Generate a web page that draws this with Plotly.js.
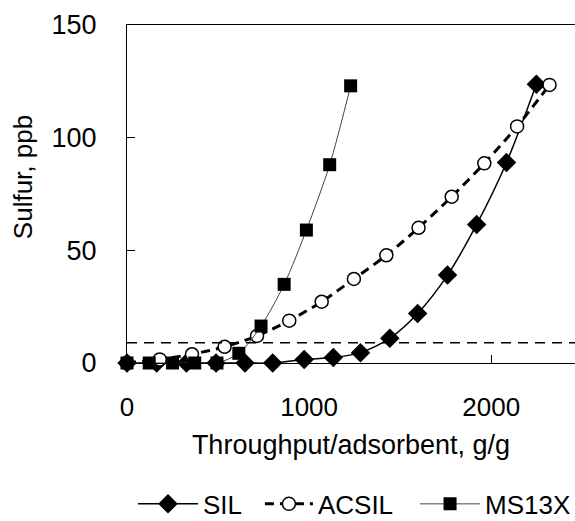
<!DOCTYPE html>
<html>
<head>
<meta charset="utf-8">
<script src="https://cdn.plot.ly/plotly-3.0.1.min.js"></script>
<style>html,body{margin:0;padding:0;background:#fff;}#chart{width:575px;height:521px;}</style>
</head>
<body>
<div id="chart"></div>
<script>
// SIL series
const silX = [0, 163, 326, 489, 648, 800, 973, 1133, 1282, 1443, 1596, 1760, 1920, 2084, 2248];
const silY = [0, 0, 0, 0, 0, 0, 1.6, 2.4, 4.6, 11, 22, 39, 61.5, 89, 123.7];
// ACSIL series
const acsilX = [0, 180, 357, 536, 714, 891, 1069, 1246, 1424, 1601, 1783, 1962, 2142, 2320];
const acsilY = [0, 1.6, 3.9, 7.2, 12, 18.8, 27.2, 37.3, 47.8, 60, 73.8, 88.6, 105, 123.4];
// MS13X series
const msX = [0, 122, 250, 372, 494, 614, 736, 863, 985, 1113, 1228];
const msY = [0, 0, 0, 0, 0, 4.3, 16.4, 34.9, 59, 88, 123];
// horizontal dashed reference level
const limitY = 9;
const xTicks = [0, 1000, 2000];
const yTicks = [0, 50, 100, 150];

const FONT = 'Liberation Sans, Arial, sans-serif';

const traces = [
  {x: silX, y: silY, name: 'SIL', mode: 'lines+markers', cliponaxis: false, legend: 'legend',
   line: {color: '#000', width: 1.5, shape: 'spline', smoothing: 0.8},
   marker: {symbol: 'diamond', size: 15, color: '#000'}},
  {x: acsilX, y: acsilY, name: 'ACSIL', mode: 'lines+markers', cliponaxis: false, legend: 'legend2',
   line: {color: '#000', width: 3, dash: '9px,6px', shape: 'spline', smoothing: 0.8},
   marker: {symbol: 'circle', size: 13, color: '#fff', line: {color: '#000', width: 1.5}}},
  {x: msX, y: msY, name: 'MS13X', mode: 'lines+markers', cliponaxis: false, legend: 'legend3',
   line: {color: '#444', width: 1, shape: 'spline', smoothing: 0.8},
   marker: {symbol: 'square', size: 13, color: '#000'}}
];
const leg = (x, w) => ({orientation: 'h', x: x, xanchor: 'left', y: -0.417, yanchor: 'middle', itemwidth: w,
                     font: {size: 26, family: FONT}, bgcolor: 'rgba(0,0,0,0)'});
const layout = {
  width: 575, height: 521,
  margin: {l: 127, r: 0, t: 25, b: 158, autoexpand: false},
  paper_bgcolor: '#fff', plot_bgcolor: '#fff',
  font: {family: FONT, color: '#000', size: 26},
  showlegend: true,
  legend: leg(0.0134, 60), legend2: leg(0.2967, 48), legend3: leg(0.643, 60),
  xaxis: {range: [0, 2460], tickvals: xTicks, ticks: 'inside', ticklen: 8, tickcolor: '#000', automargin: false,
          showline: true, linecolor: '#000', linewidth: 1, mirror: true, showgrid: false, zeroline: false,
          ticklabelstandoff: 21, tickfont: {size: 26},
          title: {text: 'Throughput/adsorbent, g/g', font: {size: 27}, standoff: 13}},
  yaxis: {range: [0, 150], tickvals: yTicks, ticks: 'inside', ticklen: 8, tickcolor: '#000', automargin: false,
          showline: true, linecolor: '#000', linewidth: 1, showgrid: false, zeroline: false,
          ticklabelstandoff: 24, tickfont: {size: 27},
          title: {text: ''}},
  shapes: [{type: 'line', xref: 'paper', x0: 0, x1: 1, yref: 'y', y0: limitY, y1: limitY,
            line: {color: '#000', width: 1.5, dash: '10px,7px'}}],
  annotations: [{text: 'Sulfur, ppb', xref: 'paper', yref: 'paper', x: -0.232, y: 0.55,
                 xanchor: 'center', yanchor: 'middle', textangle: -90, showarrow: false,
                 font: {size: 26, family: FONT}}]
};

Plotly.newPlot('chart', traces, layout, {displayModeBar: false, staticPlot: true});
</script>
</body>
</html>
